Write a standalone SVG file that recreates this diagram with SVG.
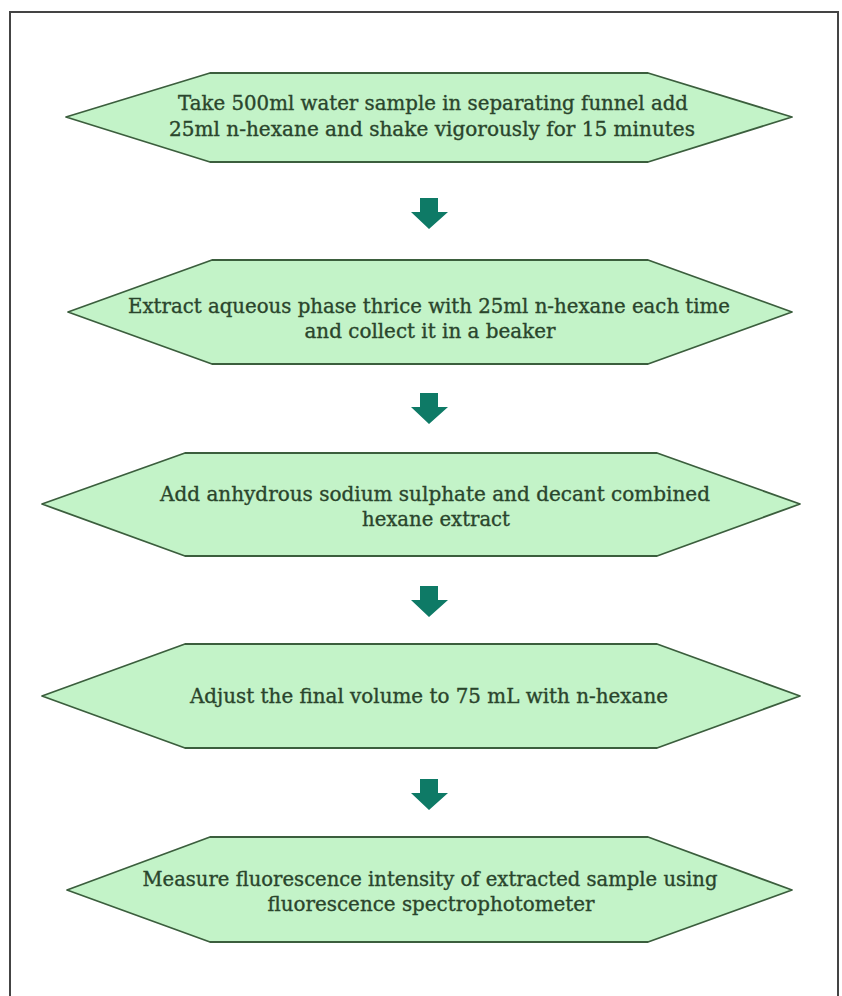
<svg xmlns="http://www.w3.org/2000/svg" width="842" height="996" viewBox="0 0 842 996">
<style>
.node{fill:#c3f3c8;stroke:#3b5e3d;stroke-width:1.8;stroke-linejoin:round}
.t{font-family:"DejaVu Serif","Liberation Serif",serif;font-size:19.5px;fill:#2a452c;stroke:#2a452c;stroke-width:0.35;text-anchor:middle}
.arr{fill:#0e7a66}
</style>
<rect x="0" y="0" width="842" height="996" fill="#ffffff"/>
<rect x="10" y="12" width="828" height="1000" fill="none" stroke="#444" stroke-width="2"/>
<g id="n1">
<polygon class="node" points="66,117 210,73 648,73 792,117 648,162 210,162"/>
<text class="t" x="433" y="110" textLength="510" lengthAdjust="spacingAndGlyphs">Take 500ml water sample in separating funnel add</text>
<text class="t" x="432" y="136" textLength="526" lengthAdjust="spacingAndGlyphs">25ml n-hexane and shake vigorously for 15 minutes</text>
</g>
<g id="n2">
<polygon class="node" points="68,312 212,260 648,260 792,312 648,364 212,364"/>
<text class="t" x="429" y="313" textLength="602" lengthAdjust="spacingAndGlyphs">Extract aqueous phase thrice with 25ml n-hexane each time</text>
<text class="t" x="430" y="338" textLength="251" lengthAdjust="spacingAndGlyphs">and collect it in a beaker</text>
</g>
<g id="n3">
<polygon class="node" points="42,504 185,453 657,453 800,504 657,556 185,556"/>
<text class="t" x="435" y="501" textLength="550" lengthAdjust="spacingAndGlyphs">Add anhydrous sodium sulphate and decant combined</text>
<text class="t" x="436" y="526" textLength="148" lengthAdjust="spacingAndGlyphs">hexane extract</text>
</g>
<g id="n4">
<polygon class="node" points="42,696 185,644 657,644 800,696 657,748 185,748"/>
<text class="t" x="429" y="703" textLength="478" lengthAdjust="spacingAndGlyphs">Adjust the final volume to 75 mL with n-hexane</text>
</g>
<g id="n5">
<polygon class="node" points="67,890 210,837 648,837 792,890 648,942 210,942"/>
<text class="t" x="430" y="886" textLength="575" lengthAdjust="spacingAndGlyphs">Measure fluorescence intensity of extracted sample using</text>
<text class="t" x="431" y="911" textLength="327" lengthAdjust="spacingAndGlyphs">fluorescence spectrophotometer</text>
</g>
<g id="connectors">
<polygon class="arr" points="420,198 438,198 438,212 448,212 429,229 411,212 420,212"/>
<polygon class="arr" points="420,393 438,393 438,407 448,407 429,424 411,407 420,407"/>
<polygon class="arr" points="420,586 438,586 438,600 448,600 429,617 411,600 420,600"/>
<polygon class="arr" points="420,779 438,779 438,793 448,793 429,810 411,793 420,793"/>
</g>
</svg>
